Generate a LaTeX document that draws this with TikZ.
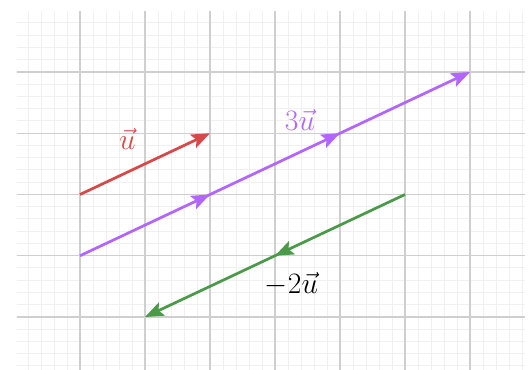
\documentclass[tikz,border=0pt]{standalone}
\usetikzlibrary{arrows.meta,decorations.markings}
\definecolor{vred}{HTML}{D94848}
\definecolor{vpurple}{HTML}{B266FF}
\definecolor{vgreen}{HTML}{4A9A4A}
\definecolor{gmajor}{HTML}{CFCFCF}
\definecolor{gminor}{HTML}{F0F0F0}
\tikzset{
  vtip/.tip={Stealth[length=13pt,width=10pt,inset=2.5pt]},
  minorline/.style={gminor, line width=0.7pt},
  majorline/.style={gmajor, line width=0.9pt},
  vec/.style={line width=1.9pt, -vtip},
  lbl/.style={font=\huge, anchor=base, inner sep=0pt},
}
\begin{document}
\begin{tikzpicture}[x=45.5pt,y=42.875pt]
\useasboundingbox (-1.2308,-0.8653) rectangle (6.9538,5.1755);
\fill[white] (-1.2308,-0.8653) rectangle (6.9538,5.1755);
\begin{scope}
  \clip (-0.97,-0.8653) rectangle (6.846,4.995);
  \foreach \i in {-5,...,35} \draw[minorline] (\i/5,-1) -- (\i/5,5.2);
  \foreach \j in {-5,...,26} \draw[minorline] (-1.3,\j/5) -- (7,\j/5);
  \foreach \i in {0,...,6} \draw[majorline] (\i,-1) -- (\i,5.2);
  \foreach \j in {0,...,5} \draw[majorline] (-1.3,\j) -- (7,\j);
\end{scope}
\coordinate (r0) at (0,2);
\coordinate (r1) at (2,3);
\coordinate (p0) at (0,1);
\coordinate (p1) at (6,4);
\coordinate (g0) at (5,2);
\coordinate (g1) at (1,0);
\draw[vec, vred] (r0) -- (r1);
\draw[vec, vpurple, postaction={decorate}, decoration={markings,
  mark=at position 1/3 with {\arrow{vtip}},
  mark=at position 2/3 with {\arrow{vtip}}}] (p0) -- (p1);
\draw[vec, vgreen, postaction={decorate}, decoration={markings,
  mark=at position 0.5 with {\arrow{vtip}}}] (g0) -- (g1);
\node[lbl, text=vred] (lu) at (0.73,2.727) {$\vec{u}$};
\node[lbl, text=vpurple] (l3u) at (3.385,3.037) {$3\vec{u}$};
\node[lbl, text=black] (l2u) at (3.254,0.39) {$-2\vec{u}$};
\end{tikzpicture}
\end{document}
